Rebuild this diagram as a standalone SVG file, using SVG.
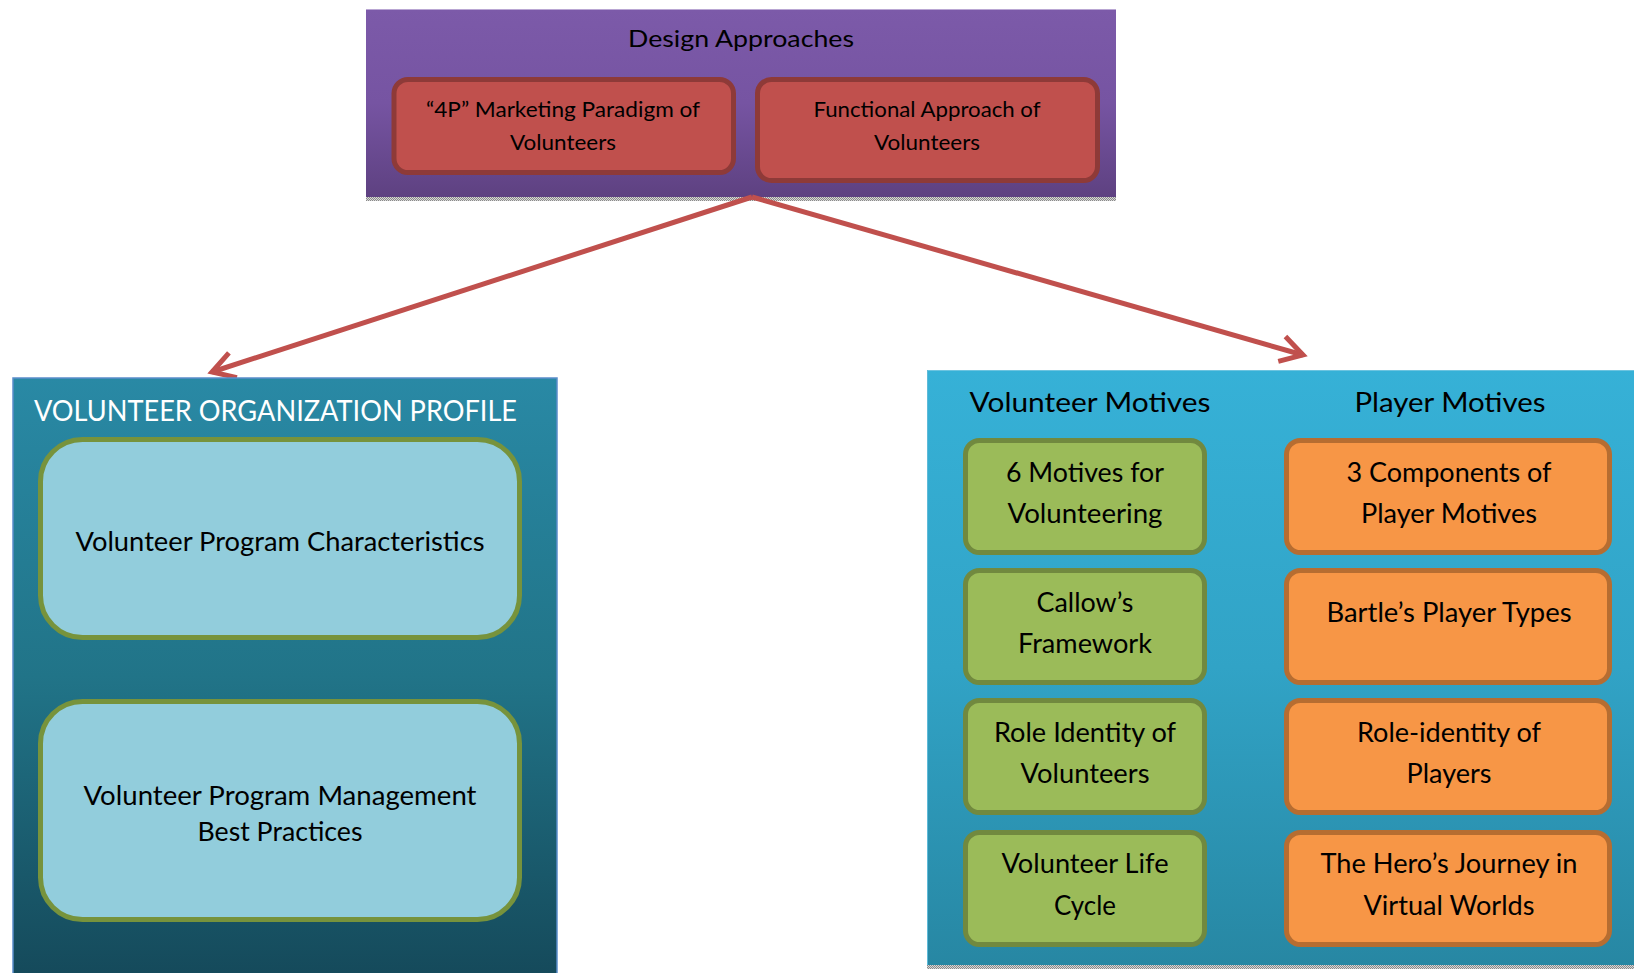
<svg xmlns="http://www.w3.org/2000/svg" width="1634" height="973" viewBox="0 0 1634 973">
  <defs>
    <linearGradient id="gPurple" x1="0" y1="0" x2="0" y2="1">
      <stop offset="0" stop-color="#7C5AA9"/>
      <stop offset="0.5" stop-color="#7654A2"/>
      <stop offset="1" stop-color="#5E4181"/>
    </linearGradient>
    <linearGradient id="gLeft" x1="0" y1="0" x2="0" y2="1">
      <stop offset="0" stop-color="#2989A5"/>
      <stop offset="0.5" stop-color="#217488"/>
      <stop offset="1" stop-color="#154A5B"/>
    </linearGradient>
    <linearGradient id="gRight" x1="0" y1="0" x2="0" y2="1">
      <stop offset="0" stop-color="#36B1D7"/>
      <stop offset="0.5" stop-color="#31A3C6"/>
      <stop offset="1" stop-color="#2787A3"/>
    </linearGradient>
    <pattern id="dots" width="2" height="2" patternUnits="userSpaceOnUse">
      <rect width="2" height="2" fill="#d8d8d8"/>
      <rect width="1" height="1" fill="#8a8a8a"/>
      <rect x="1" y="1" width="1" height="1" fill="#8a8a8a"/>
    </pattern>
    <marker id="arrow" markerUnits="userSpaceOnUse" markerWidth="40" markerHeight="40" refX="0" refY="0" viewBox="-30 -20 40 40" orient="auto" overflow="visible">
      <path d="M -22 -13 L 0 0 L -22 13" fill="none" stroke="#C0504D" stroke-width="5" stroke-linejoin="miter" stroke-linecap="butt"/>
    </marker>
    <style>
      text { font-family: Lato, "Open Sans", "Liberation Sans", sans-serif; fill: #000; text-anchor: middle; }
      .red { fill: #C0504D; stroke: #8E3A38; stroke-width: 5; }
      .inner { fill: #92CDDC; stroke: #77933C; stroke-width: 5; }
      .green { fill: #9BBB59; stroke: #71893F; stroke-width: 5; }
      .orange { fill: #F79646; stroke: #B66D31; stroke-width: 5; }
      .t21 { font-size: 21px; }
      .t26 { font-size: 26px; }
      .conn { fill: none; stroke: #C0504D; stroke-width: 5; }
    </style>
  </defs>

  <rect width="1634" height="973" fill="#ffffff"/>

  <g id="design-approaches">
    <rect x="366" y="9" width="750" height="188" fill="url(#gPurple)"/>
    <line x1="366" y1="9.5" x2="1116" y2="9.5" stroke="#b9a6d3" stroke-width="1"/>
    <rect x="366" y="197" width="750" height="4" fill="url(#dots)"/>
    <text x="741" y="47" style="font-size:24px" textLength="226" lengthAdjust="spacingAndGlyphs">Design Approaches</text>
  </g>

  <g id="node-4p">
    <rect class="red" x="394" y="79.5" width="339.5" height="93" rx="14"/>
    <text class="t21" x="563" y="117" textLength="274" lengthAdjust="spacingAndGlyphs">“4P” Marketing Paradigm of</text>
    <text class="t21" x="563" y="150" textLength="106" lengthAdjust="spacingAndGlyphs">Volunteers</text>
  </g>

  <g id="node-functional">
    <rect class="red" x="757.5" y="79.5" width="340" height="101" rx="14"/>
    <text class="t21" x="927" y="117" textLength="227" lengthAdjust="spacingAndGlyphs">Functional Approach of</text>
    <text class="t21" x="927" y="150" textLength="106" lengthAdjust="spacingAndGlyphs">Volunteers</text>
  </g>

  <g id="connectors">
    <path class="conn" d="M 752 197 L 212 372" marker-end="url(#arrow)"/>
    <path class="conn" d="M 752 197 L 1303 355" marker-end="url(#arrow)"/>
  </g>

  <g id="volunteer-organization-profile">
    <rect x="13" y="378" width="544" height="596" fill="url(#gLeft)" stroke="#5A8DCA" stroke-width="1.5"/>
    <text x="275.5" y="421" style="font-size:28px; fill:#ffffff" textLength="483" lengthAdjust="spacingAndGlyphs">VOLUNTEER ORGANIZATION PROFILE</text>
  </g>

  <g id="node-program-characteristics">
    <rect class="inner" x="40.5" y="439.5" width="479" height="198" rx="42"/>
    <text x="280" y="551" style="font-size:26.5px" textLength="409" lengthAdjust="spacingAndGlyphs">Volunteer Program Characteristics</text>
  </g>

  <g id="node-program-management">
    <rect class="inner" x="40.5" y="701.5" width="479" height="218" rx="42"/>
    <text x="280" y="805" style="font-size:26.5px" textLength="393" lengthAdjust="spacingAndGlyphs">Volunteer Program Management</text>
    <text x="280" y="841" style="font-size:26.5px" textLength="165" lengthAdjust="spacingAndGlyphs">Best Practices</text>
  </g>

  <g id="motives-panel">
    <rect x="927" y="370" width="708" height="595" fill="url(#gRight)"/>
    <line x1="927" y1="370.5" x2="1634" y2="370.5" stroke="#6cc4e0" stroke-width="1"/>
    <line x1="927.5" y1="370" x2="927.5" y2="965" stroke="#5fbad8" stroke-width="1"/>
    <rect x="927" y="965" width="707" height="4" fill="url(#dots)"/>
    <text class="t26" x="1090" y="412" textLength="241" lengthAdjust="spacingAndGlyphs">Volunteer Motives</text>
    <text class="t26" x="1450" y="412" textLength="191" lengthAdjust="spacingAndGlyphs">Player Motives</text>
  </g>

  <g id="node-6-motives">
    <rect class="green" x="965.5" y="440.5" width="239" height="112" rx="14"/>
    <text class="t26" x="1085" y="482" textLength="158" lengthAdjust="spacingAndGlyphs">6 Motives for</text>
    <text class="t26" x="1085" y="523" textLength="155" lengthAdjust="spacingAndGlyphs">Volunteering</text>
  </g>

  <g id="node-callow">
    <rect class="green" x="965.5" y="570.5" width="239" height="112" rx="14"/>
    <text class="t26" x="1085" y="612" textLength="97" lengthAdjust="spacingAndGlyphs">Callow’s</text>
    <text class="t26" x="1085" y="653" textLength="134" lengthAdjust="spacingAndGlyphs">Framework</text>
  </g>

  <g id="node-role-identity-volunteers">
    <rect class="green" x="965.5" y="700.5" width="239" height="112" rx="14"/>
    <text class="t26" x="1085" y="742" textLength="182" lengthAdjust="spacingAndGlyphs">Role Identity of</text>
    <text class="t26" x="1085" y="783" textLength="129" lengthAdjust="spacingAndGlyphs">Volunteers</text>
  </g>

  <g id="node-life-cycle">
    <rect class="green" x="965.5" y="832.5" width="239" height="112" rx="14"/>
    <text class="t26" x="1085" y="873" textLength="167" lengthAdjust="spacingAndGlyphs">Volunteer Life</text>
    <text class="t26" x="1085" y="915" textLength="62" lengthAdjust="spacingAndGlyphs">Cycle</text>
  </g>

  <g id="node-3-components">
    <rect class="orange" x="1286.5" y="440.5" width="323" height="112" rx="14"/>
    <text class="t26" x="1449" y="482" textLength="205" lengthAdjust="spacingAndGlyphs">3 Components of</text>
    <text class="t26" x="1449" y="523" textLength="176" lengthAdjust="spacingAndGlyphs">Player Motives</text>
  </g>

  <g id="node-bartle">
    <rect class="orange" x="1286.5" y="570.5" width="323" height="112" rx="14"/>
    <text class="t26" x="1449" y="622" textLength="245" lengthAdjust="spacingAndGlyphs">Bartle’s Player Types</text>
  </g>

  <g id="node-role-identity-players">
    <rect class="orange" x="1286.5" y="700.5" width="323" height="112" rx="14"/>
    <text class="t26" x="1449" y="742" textLength="184" lengthAdjust="spacingAndGlyphs">Role-identity of</text>
    <text class="t26" x="1449" y="783" textLength="85" lengthAdjust="spacingAndGlyphs">Players</text>
  </g>

  <g id="node-hero-journey">
    <rect class="orange" x="1286.5" y="832.5" width="323" height="112" rx="14"/>
    <text class="t26" x="1449" y="873" textLength="257" lengthAdjust="spacingAndGlyphs">The Hero’s Journey in</text>
    <text class="t26" x="1449" y="915" textLength="171" lengthAdjust="spacingAndGlyphs">Virtual Worlds</text>
  </g>
</svg>
